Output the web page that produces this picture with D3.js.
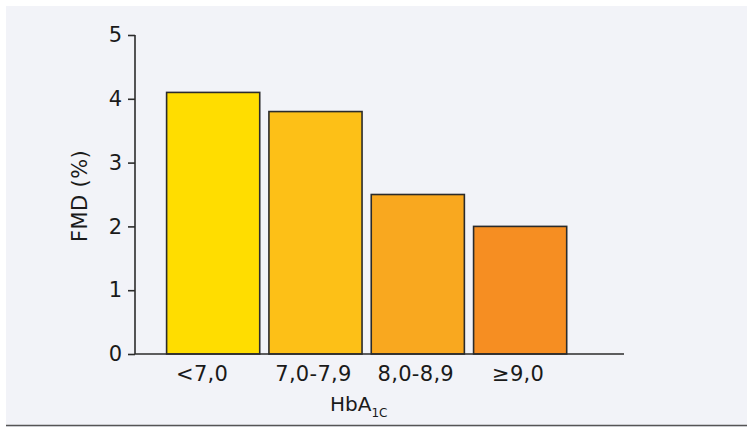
<!DOCTYPE html>
<html>
<head>
<meta charset="utf-8">
<script src="https://cdn.jsdelivr.net/npm/d3@7/dist/d3.min.js"></script>
<style>
  html, body { margin: 0; padding: 0; background: #ffffff; }
  svg { display: block; }
  text { font-family: "DejaVu Sans", Verdana, sans-serif; fill: #1a1a1a; }
</style>
</head>
<body>
<svg id="chart" width="747" height="427"></svg>
<script>
const categories = ["<7,0", "7,0-7,9", "8,0-8,9", "\u22659,0"];
const values = [4.1, 3.8, 2.5, 2.0];
const colors = ["#FFDD00", "#FDC017", "#F9A81F", "#F68E22"];
const yTicks = [0, 1, 2, 3, 4, 5];
const yTitle = "FMD (%)";
const xTitleMain = "HbA";
const xTitleSub = "1C";

const svg = d3.select("#chart");
const W = 747, H = 427;

// panel background
svg.append("rect").attr("x", 6).attr("y", 6).attr("width", W - 6).attr("height", H - 6)
  .attr("fill", "#F2F3F8");
svg.append("line").attr("x1", 6).attr("x2", W).attr("y1", 425.5).attr("y2", 425.5)
  .attr("stroke", "#555").attr("stroke-width", 1.3);

const axisLeft = 135, axisRight = 624;
const y = d3.scaleLinear().domain([0, 5]).range([354, 35]);
const x = d3.scaleBand().domain(categories).range([162, 571.3])
  .paddingInner(0.09).paddingOuter(0.045);

// bars
svg.append("g").selectAll("rect").data(values).join("rect")
  .attr("x", (d, i) => x(categories[i]))
  .attr("y", d => y(d))
  .attr("width", x.bandwidth())
  .attr("height", d => y(0) - y(d))
  .attr("fill", (d, i) => colors[i])
  .attr("stroke", "#2b2b2b")
  .attr("stroke-width", 1.6);

// y axis
const yAxis = svg.append("g").attr("transform", `translate(${axisLeft},0)`)
  .call(d3.axisLeft(y).tickValues(yTicks).tickFormat(d3.format("d")).tickSize(7).tickPadding(6));
yAxis.select(".domain").attr("stroke", "#2b2b2b").attr("stroke-width", 1.6).attr("d", `M0,${y(5)}V${y(0)}`);
yAxis.selectAll(".tick line").attr("stroke", "#2b2b2b").attr("stroke-width", 1.6);
yAxis.selectAll(".tick text").style("font-family", '"DejaVu Sans", Verdana, sans-serif')
  .style("font-size", "21px").attr("fill", "#1a1a1a");

// x axis line
svg.append("line").attr("x1", axisLeft).attr("x2", axisRight)
  .attr("y1", y(0)).attr("y2", y(0)).attr("stroke", "#2b2b2b").attr("stroke-width", 1.6);

// x labels
svg.append("g").selectAll("text").data(categories).join("text")
  .attr("x", (d, i) => x(d) + x.bandwidth() / 2 + (i === 0 ? -11 : -2))
  .attr("y", 380.7)
  .attr("text-anchor", "middle")
  .style("font-size", "21px")
  .style("letter-spacing", "0.3px")
  .text(d => d);

// y title
svg.append("text")
  .attr("transform", "translate(87,196) rotate(-90)")
  .attr("text-anchor", "middle")
  .style("font-size", "21px")
  .style("letter-spacing", "0.4px")
  .text(yTitle);

// x title with subscript
const xt = svg.append("text").attr("x", 330).attr("y", 410.7).style("font-size", "20px");
xt.append("tspan").text(xTitleMain);
xt.append("tspan").attr("dy", 6).style("font-size", "12px").text(xTitleSub);
</script>
</body>
</html>
